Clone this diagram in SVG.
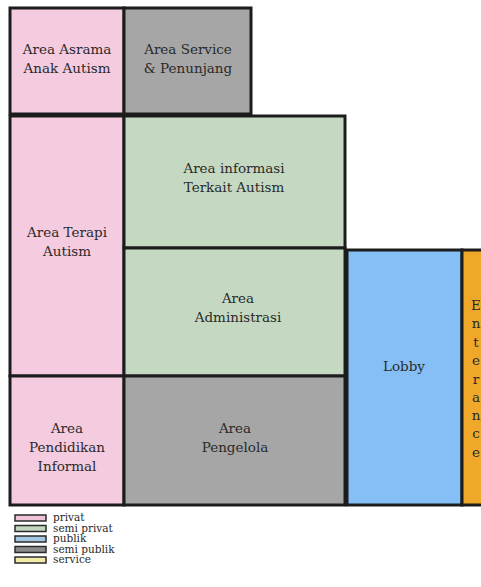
<svg xmlns="http://www.w3.org/2000/svg" width="481" height="587" viewBox="0 0 481 587">
<style>
.r{stroke:#1c1c1c;stroke-width:3}
.pv{fill:#f4cbdf}.sp{fill:#c5d9c2}.pb{fill:#85bff5}.gs{fill:#a6a6a6}.en{fill:#f0a82a}
text{font-family:"DejaVu Serif","Liberation Serif",serif;font-size:13.5px;fill:#2a2a2a;text-anchor:middle}
.lg{font-size:10.5px;text-anchor:start}
.sw{stroke:#2a2a2a;stroke-width:1.5}
</style>
<rect width="481" height="587" fill="#ffffff"/>
<g id="asrama"><rect class="r pv" x="10" y="8" width="114" height="106"/><text x="67" y="54">Area Asrama</text><text x="67" y="73">Anak Autism</text></g>
<g id="service"><rect class="r gs" x="124" y="8" width="127" height="106"/><text x="188" y="54">Area Service</text><text x="188" y="73">&amp; Penunjang</text></g>
<g id="terapi"><rect class="r pv" x="10" y="116" width="114" height="260"/><text x="67" y="237">Area Terapi</text><text x="67" y="256">Autism</text></g>
<g id="informasi"><rect class="r sp" x="124" y="116" width="221" height="132"/><text x="234" y="173">Area informasi</text><text x="234" y="192">Terkait Autism</text></g>
<g id="administrasi"><rect class="r sp" x="124" y="248" width="221" height="128"/><text x="238" y="303">Area</text><text x="238" y="322">Administrasi</text></g>
<g id="pendidikan"><rect class="r pv" x="10" y="376" width="114" height="129"/><text x="67" y="433">Area</text><text x="67" y="452">Pendidikan</text><text x="67" y="471">Informal</text></g>
<g id="pengelola"><rect class="r gs" x="124" y="376" width="221" height="129"/><text x="235" y="433">Area</text><text x="235" y="452">Pengelola</text></g>
<g id="lobby"><rect class="r pb" x="347" y="250" width="115" height="255"/><text x="404" y="371">Lobby</text></g>
<g id="entrance"><rect class="r en" x="462" y="250" width="30" height="255"/>
<text x="476" y="310">E</text><text x="476" y="328">n</text><text x="476" y="347">t</text><text x="476" y="365">e</text><text x="476" y="384">r</text><text x="476" y="402">a</text><text x="476" y="420">n</text><text x="476" y="438">c</text><text x="476" y="457">e</text></g>
<g id="connectors"></g>
<g id="legend">
<rect class="sw" x="15" y="515" width="31" height="6" fill="#f0c4d6"/><text class="lg" x="53" y="521">privat</text>
<rect class="sw" x="15" y="525.5" width="31" height="6" fill="#c0d6bd"/><text class="lg" x="53" y="531.5">semi privat</text>
<rect class="sw" x="15" y="536" width="31" height="6" fill="#a4c6e0"/><text class="lg" x="53" y="542">publik</text>
<rect class="sw" x="15" y="546.5" width="31" height="6" fill="#8c8c8c"/><text class="lg" x="53" y="552.5">semi publik</text>
<rect class="sw" x="15" y="557" width="31" height="6" fill="#f2eba8"/><text class="lg" x="53" y="563">service</text>
</g>
</svg>
